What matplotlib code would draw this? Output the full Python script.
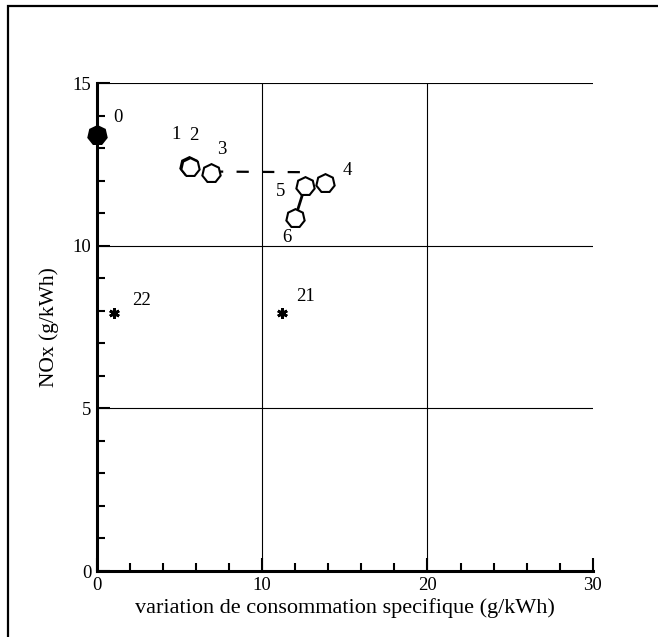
import matplotlib
matplotlib.use('Agg')
import matplotlib.pyplot as plt
from matplotlib.ticker import MultipleLocator
from matplotlib.patches import Rectangle

plt.rcParams['font.family'] = ['Liberation Serif', 'DejaVu Serif']

# points (variation conso spec, NOx)
ref_x, ref_y, ref_lab = [0.0], [13.4], ['0']
pts_x = [5.55, 5.63, 6.91, 13.8, 12.6, 11.99]
pts_y = [12.45, 12.42, 12.24, 11.92, 11.83, 10.84]
pts_lab = ['1', '2', '3', '4', '5', '6']
star_x = [11.19, 1.05]
star_y = [7.94, 7.94]
star_lab = ['21', '22']
# dashed trend 3 -> 5, solid link 5 -> 6
dash_x = [6.91, 12.6]
dash_y = [12.28, 12.26]

# label offsets (points)
offs = {'0': (15, 13), '1': (-9, 23), '2': (3, 23), '3': (8, 17), '4': (16, 9),
        '5': (-18, -4), '6': (-6, -14), '21': (17, 12), '22': (20, 9)}

fig = plt.figure(figsize=(6.58, 6.37), dpi=100)
ax = fig.add_axes([0.147, 0.1036, 0.754, 0.766])

for v in [10, 20]:
    ax.axvline(v, color='black', lw=0.8, zorder=1)
for v in [5, 10, 15]:
    ax.axhline(v, color='black', lw=0.8, zorder=1)

ax.plot(dash_x, dash_y, color='black', lw=1.6, dashes=(5.5, 6), zorder=2)
ax.plot(pts_x[4:6], pts_y[4:6], color='black', lw=2, zorder=2)

hept = (7, 0, 0)
ax.plot(pts_x, pts_y, ls='none', marker=hept, ms=13.5, mfc='white', mec='black',
        mew=1.5, zorder=3)
ax.plot(ref_x, ref_y, ls='none', marker=hept, ms=13.5, mfc='black', mec='black',
        mew=1.5, zorder=4, clip_on=False)
ax.plot(star_x, star_y, ls='none', marker=(6, 2, 0), ms=7.5, mec='black',
        mew=2, zorder=3)

for x, y, s in zip(ref_x + pts_x + star_x, ref_y + pts_y + star_y,
                   ref_lab + pts_lab + star_lab):
    ax.annotate(s, (x, y), xytext=offs[s], textcoords='offset points',
                ha='center', va='center', fontsize=13.5)

ax.set_xlim(0, 30)
ax.set_ylim(0, 15)
ax.xaxis.set_major_locator(MultipleLocator(10))
ax.xaxis.set_minor_locator(MultipleLocator(2))
ax.yaxis.set_major_locator(MultipleLocator(5))
ax.yaxis.set_minor_locator(MultipleLocator(1))
ax.tick_params(which='both', direction='in', top=False, right=False,
               width=1.5, labelsize=13.5, pad=4)
ax.tick_params(which='major', length=9.5)
ax.tick_params(which='minor', length=5.5)

for s in ['top', 'right']:
    ax.spines[s].set_visible(False)
for s in ['left', 'bottom']:
    ax.spines[s].set_linewidth(2.2)

ax.set_xlabel('variation de consommation specifique (g/kWh)', fontsize=16,
              labelpad=3)
ax.set_ylabel('NOx (g/kWh)', fontsize=15.5, labelpad=10)

fig.add_artist(Rectangle((8 / 658, -0.2), 1.2, 1.2 - 6 / 637,
                         transform=fig.transFigure, fill=False,
                         edgecolor='black', lw=1.6))

fig.savefig('out.png', dpi=100)
